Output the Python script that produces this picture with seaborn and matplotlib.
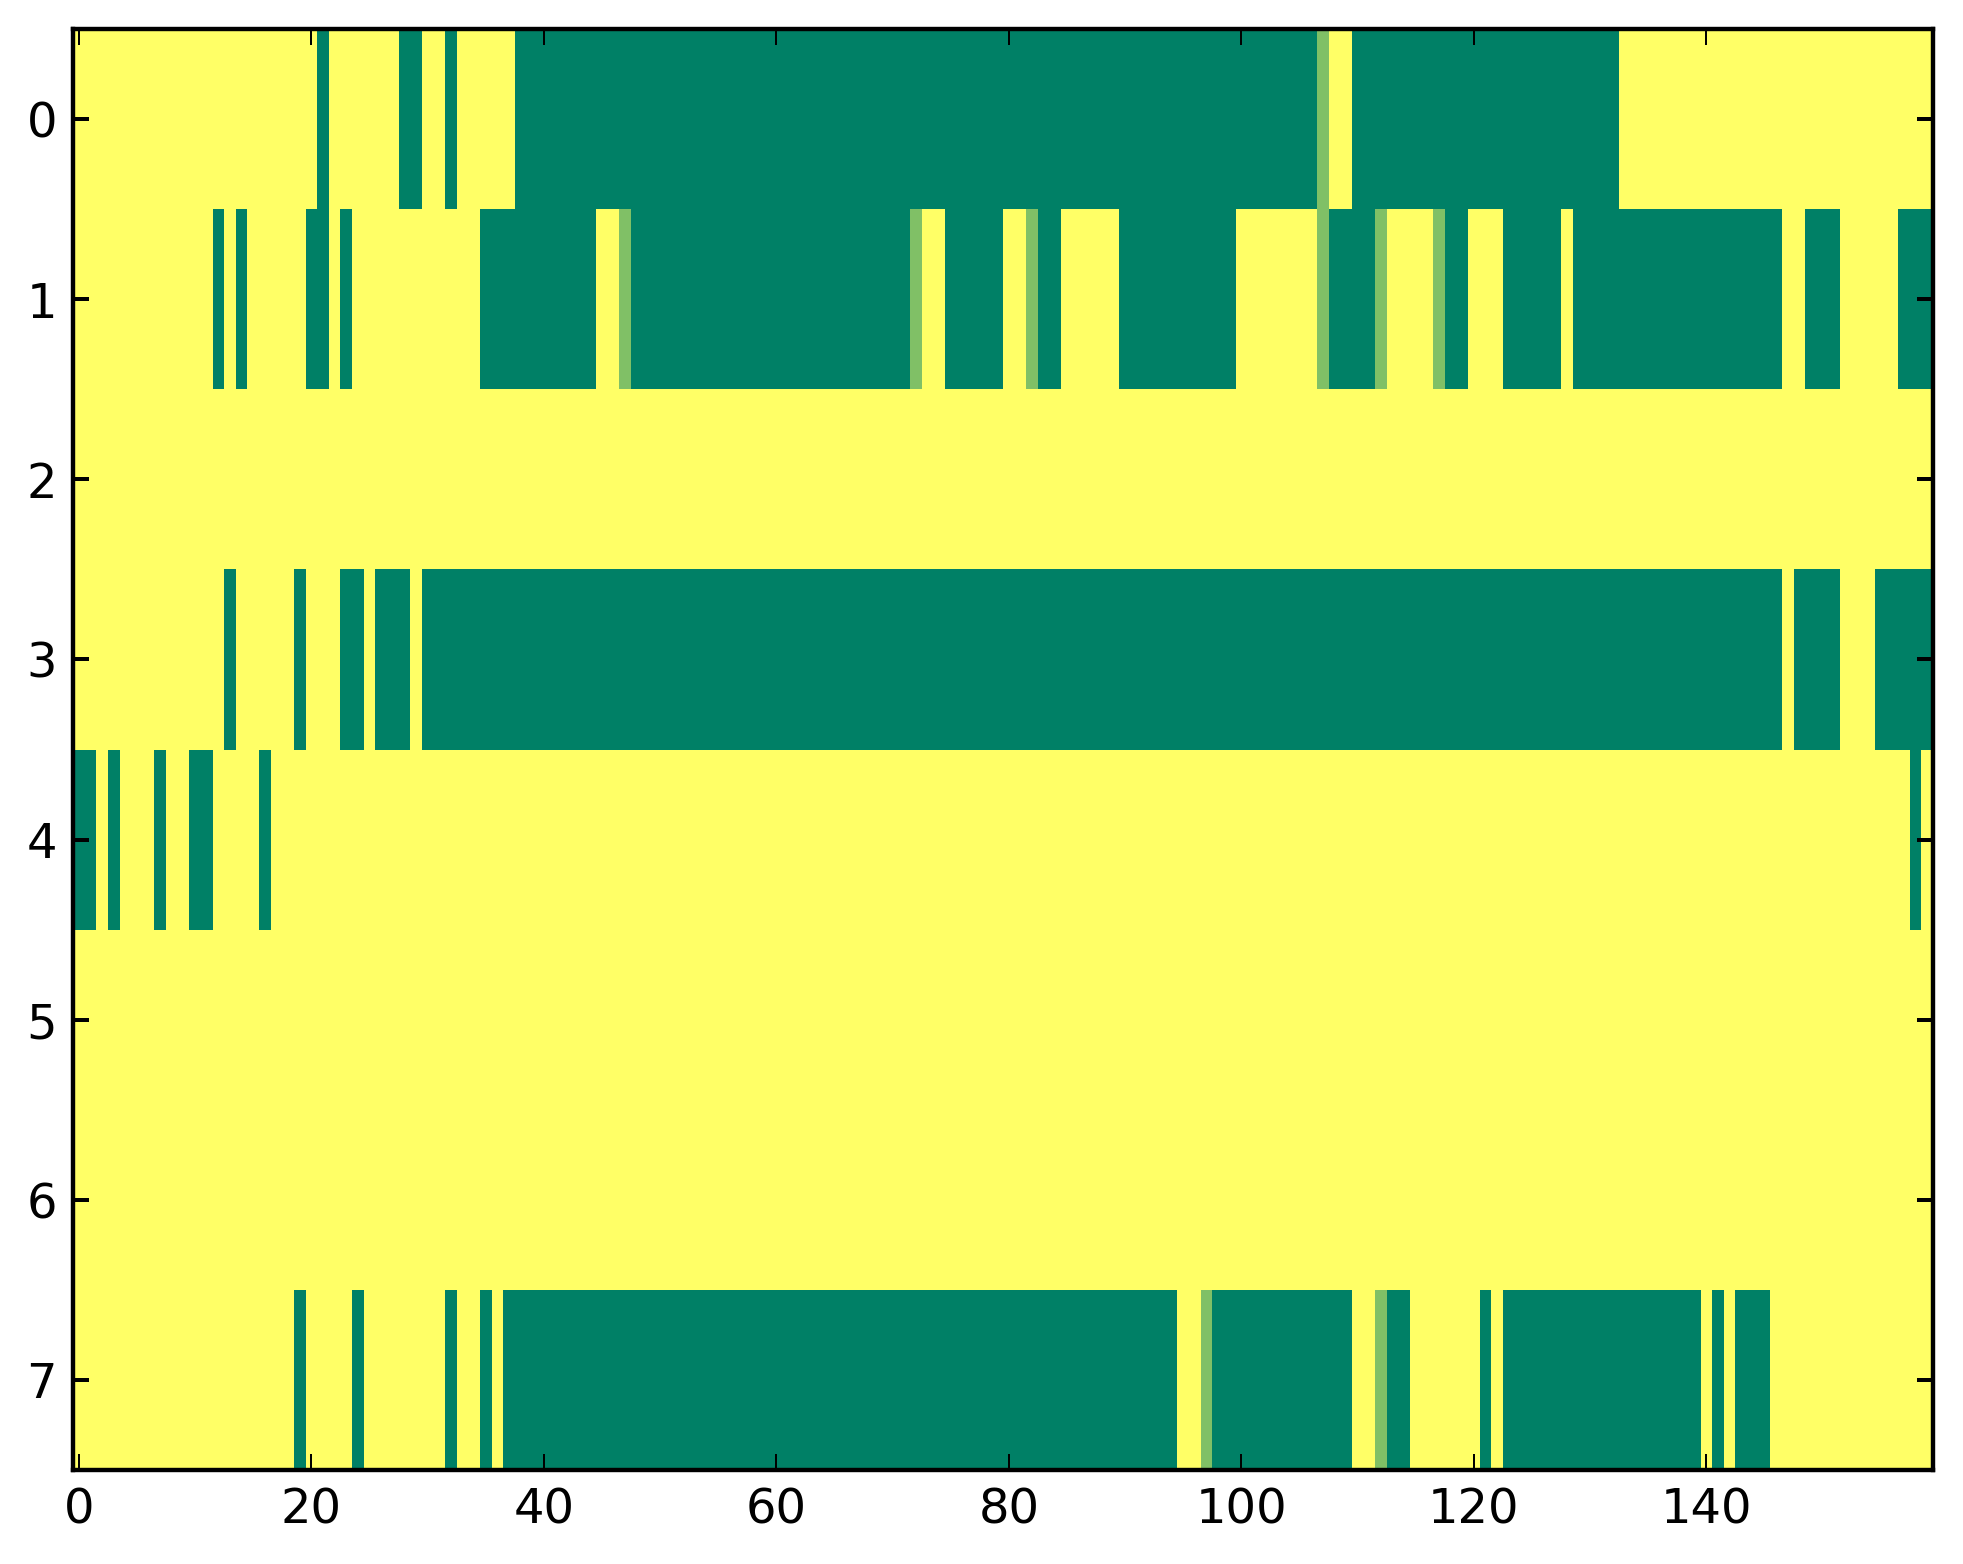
import numpy as np
import pandas as pd
import matplotlib
matplotlib.use("Agg")
import matplotlib.pyplot as plt
import seaborn as sns

'''
data: 8 rows x 160 columns, value 1 (yellow) unless listed
runs are (first, last) inclusive, single ints are one column
'''
n_rows = 8
n_cols = 160

low_cols = {
    0: [21, (28, 29), 32, (38, 106), (110, 132)],
    1: [12, 14, (20, 21), 23, (35, 44), (48, 71), (75, 79), (83, 84), (90, 99),
        (108, 111), (118, 119), (123, 127), (129, 146), (149, 151), (157, 159)],
    2: [],
    3: [13, 19, (23, 24), (26, 28), (30, 146), (148, 151), (155, 159)],
    4: [(0, 1), 3, 7, (10, 11), 16, 158],
    5: [],
    6: [],
    7: [19, 24, 32, 35, (37, 94), (98, 109), (113, 114), 121, (123, 139), 141, (143, 145)],
}
half_cols = {
    0: [107],
    1: [47, 72, 82, 107, 112, 117],
    7: [97, 112],
}

def expand(items):
    out = []
    for it in items:
        if isinstance(it, tuple):
            out.extend(range(it[0], it[1] + 1))
        else:
            out.append(it)
    return out

grid = np.ones((n_rows, n_cols))
for r, items in low_cols.items():
    grid[r, expand(items)] = 0.0
for r, items in half_cols.items():
    grid[r, expand(items)] = 0.5

df = pd.DataFrame(grid)

'''
plot
'''
dpi = 288
fig = plt.figure(figsize=(1963 / dpi, 1564 / dpi), dpi=dpi)
ax = fig.add_axes([73 / 1963, 1 - 1470 / 1564, (1933 - 73) / 1963, (1470 - 29) / 1564])

sns.heatmap(df, cmap="summer", vmin=0, vmax=1, cbar=False,
            xticklabels=False, yticklabels=False, ax=ax)

for sp in ax.spines.values():
    sp.set_visible(True)
    sp.set_linewidth(1.1)
    sp.set_color("black")

ax.set_xticks(np.arange(0, 141, 20) + 0.5)
ax.set_xticklabels([str(v) for v in range(0, 141, 20)])
ax.set_yticks(np.arange(n_rows) + 0.5)
ax.set_yticklabels([str(v) for v in range(n_rows)], rotation=0)
ax.tick_params(axis="both", which="major", direction="in", length=4, width=0.5,
               top=True, right=True, bottom=True, left=True,
               labelsize=12, pad=4, colors="black")
ax.tick_params(axis="y", width=1.0)
ax.set_xlabel("")
ax.set_ylabel("")

fig.savefig("out.png", dpi=dpi)
